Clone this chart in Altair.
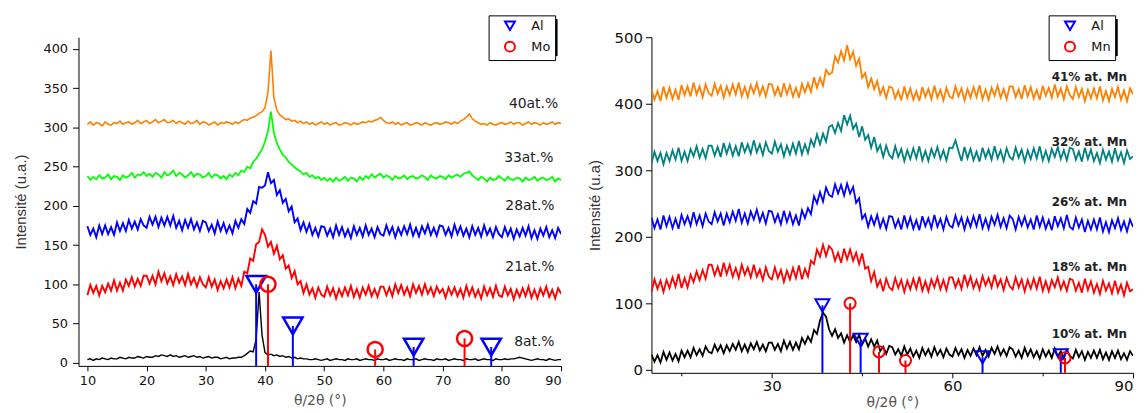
import altair as alt
import pandas as pd

# ---------------- LEFT PANEL DATA (x = 10 .. 90, step 0.5) ----------------
left_names = ["8at.%", "21at.%", "28at.%", "33at.%", "40at.%"]
left_colors = ["#000000", "#FF0000", "#0000FF", "#00FF00", "#FF8000"]
left_widths = [1.4, 1.9, 1.9, 1.8, 1.6]

left_40 = [
    304,307, 303,306, 305,302, 307,304, 303,306, 305,308, 304,306, 307,304, 306,309, 305,307,
    309,305, 307,310, 306,308, 310,306, 307,309, 305,308, 306,304, 308,305, 306,309, 304,307,
    306,303, 305,307, 303,306, 305,307, 306,304, 307,305, 308,310, 309,312, 313,315, 318,320,
    325,345, 398,338, 322,316, 313,310, 311,308, 309,306, 308,305, 307,304, 306,303, 305,307,
    304,306, 303,305, 306,303, 304,306, 305,303, 306,304, 305,307, 306,308, 307,309, 310,313,
    309,306, 305,307, 304,306, 303,305, 306,303, 304,306, 305,303, 306,304, 303,305, 306,304,
    305,307, 306,304, 307,305, 308,310, 313,317, 311,308, 306,304, 305,303, 306,304, 303,305,
    306,304, 305,307, 304,306, 306,303, 305,307, 304,306, 305,303, 306,304, 305,307, 304,306,
    305]
left_33 = [
    238,233, 237,234, 239,235, 236,240, 234,238, 237,233, 239,236, 238,242, 236,240, 239,243,
    238,241, 237,242, 240,236, 243,239, 241,245, 238,242, 240,236, 239,243, 237,241, 240,236,
    238,242, 236,240, 239,235, 238,234, 240,237, 242,239, 245,243, 250,248, 256,260, 266,272,
    282,295, 320,293, 280,272, 265,262, 256,253, 249,246, 244,240, 242,237, 239,235, 237,233,
    236,232, 235,231, 236,232, 234,237, 232,236, 235,231, 237,233, 238,235, 240,236, 239,241,
    236,239, 237,233, 238,235, 236,239, 234,237, 238,235, 236,239, 237,233, 239,236, 235,238,
    237,234, 239,236, 238,240, 237,241, 242,244, 239,236, 233,237, 235,231, 236,233, 234,238,
    235,232, 237,234, 233,236, 235,231, 236,233, 234,237, 232,235, 236,233, 234,237, 231,235,
    233]
left_28 = [
    174,163, 171,160, 175,164, 175,164, 173,163, 179,168, 178,168, 182,171, 180,170, 183,175,
    172,186, 176,186, 173,185, 175,186, 175,187, 172,181, 169,182, 172,183, 170,179, 168,181,
    179,168, 176,165, 180,168, 178,166, 175,165, 181,172, 183,177, 196,191, 206,203, 224,223,
    226,243, 229,233, 214,220, 204,209, 193,199, 179,184, 169,179, 167,177, 163,172, 161,174,
    173,162, 171,160, 175,163, 173,161, 170,159, 174,163, 172,161, 175,163, 171,160, 173,164,
    162,175, 164,173, 160,172, 163,174, 164,176, 162,172, 161,174, 165,176, 163,172, 162,175,
    174,163, 172,161, 176,164, 174,162, 171,160, 174,163, 172,161, 175,163, 171,160, 173,164,
    160,173, 162,171, 158,170, 161,172, 162,174, 159,169, 158,171, 162,173, 160,169, 159,172,
    164]
left_21 = [
    86,99, 89,98, 86,98, 90,101, 92,105, 92,102, 92,106, 98,109, 97,107, 98,111,
    111,101, 111,100, 116,104, 114,101, 110,99, 113,102, 110,99, 113,100, 108,97, 109,100,
    96,109, 97,106, 93,104, 95,106, 96,109, 95,107, 98,116, 114,133, 130,151, 154,170,
    163,148, 154,139, 149,132, 137,120, 124,108, 117,100, 104,89, 100,87, 95,83, 96,87,
    84,97, 86,95, 82,94, 85,96, 86,98, 84,94, 83,96, 87,98, 85,94, 84,97,
    97,86, 96,85, 100,89, 99,87, 96,85, 100,89, 98,87, 100,88, 96,85, 97,89,
    94,83, 96,87, 96,85, 94,83, 98,86, 96,84, 93,82, 97,86, 95,84, 98,86,
    84,97, 86,94, 81,93, 84,95, 85,97, 83,93, 82,95, 86,97, 84,93, 82,95,
    88]
left_8 = [
    4,5, 3,5, 4,6, 5,4, 6,5, 5,7, 6,5, 7,6, 6,8, 7,6,
    8,7, 7,9, 8,10, 9,8, 10,8, 9,7, 8,9, 7,8, 9,7, 8,6,
    7,8, 6,7, 7,5, 6,7, 5,6, 6,7, 7,9, 12,15, 14,30, 90,35,
    13,10, 11,9, 10,8, 9,7, 8,6, 7,5, 6,5, 5,4, 4,5, 4,3,
    4,5, 3,4, 5,4, 4,3, 5,4, 4,5, 3,4, 5,4, 4,3, 5,4,
    4,5, 3,4, 5,4, 4,3, 5,4, 4,5, 3,4, 5,4, 4,3, 5,4,
    4,5, 3,4, 5,4, 4,3, 5,4, 4,5, 3,4, 5,4, 4,3, 5,4,
    4,5, 4,5, 5,6, 7,6, 5,4, 3,4, 5,4, 4,3, 5,4, 3,4,
    4]
left_series = [left_8, left_21, left_28, left_33, left_40]

# reference sticks (left)
left_ref_x = [38.5, 44.7, 65.1, 78.2, 40.5, 58.6, 73.7]
left_ref_y = [100, 47, 20, 20, 100, 17, 31]
left_ref_el = ["Al", "Al", "Al", "Al", "Mo", "Mo", "Mo"]

left_lab_x = [88.9, 88.9, 88.9, 88.7, 89.5]
left_lab_y = [27, 122, 200, 261, 330]

# ---------------- RIGHT PANEL DATA (x = 10 .. 90, step 0.5) ----------------
right_names = ["10% at. Mn", "18% at. Mn", "26% at. Mn", "32% at. Mn", "41% at. Mn"]
right_colors = ["#000000", "#FF0000", "#0000FF", "#008080", "#FF8000"]
right_widths = [1.8, 1.8, 1.8, 1.8, 1.8]

right_41 = [
    422,406, 419,404, 426,409, 424,407, 421,406, 428,413, 426,411, 432,414, 426,410, 429,416,
    412,430, 415,427, 409,426, 413,429, 414,432, 411,425, 410,428, 416,431, 413,426, 411,430,
    429,413, 425,410, 431,414, 428,411, 424,409, 430,417, 431,418, 440,424, 439,427, 451,444,
    447,471, 462,479, 465,488, 467,478, 457,468, 439,446, 425,438, 422,434, 414,425, 409,426,
    424,408, 420,405, 426,409, 423,406, 419,404, 425,410, 422,407, 427,409, 421,405, 424,411,
    408,426, 411,423, 405,422, 409,425, 410,428, 407,421, 406,424, 412,427, 409,422, 407,426,
    426,410, 422,407, 428,411, 425,408, 421,406, 427,412, 424,409, 429,411, 423,407, 426,413,
    407,425, 410,422, 404,421, 408,423, 408,426, 405,419, 404,422, 410,425, 406,420, 404,423,
    414]
right_32 = [
    310,328, 314,326, 309,326, 314,330, 316,334, 314,328, 314,332, 321,336, 319,332, 318,337,
    337,322, 335,320, 341,325, 339,322, 336,321, 342,327, 339,325, 345,327, 339,323, 342,329,
    325,343, 328,339, 321,337, 324,340, 325,344, 324,339, 326,346, 336,354, 339,355, 343,365,
    368,356, 371,359, 383,369, 382,362, 370,350, 366,346, 353,334, 350,329, 338,320, 337,323,
    318,336, 320,332, 314,330, 317,333, 318,336, 315,329, 314,332, 320,335, 317,330, 315,334,
    333,345, 329,314, 335,318, 332,315, 328,313, 334,319, 331,316, 336,318, 330,314, 333,320,
    316,334, 319,331, 313,330, 317,333, 318,336, 315,329, 314,332, 320,335, 317,330, 315,334,
    332,316, 328,313, 334,317, 331,314, 326,311, 331,316, 328,313, 333,315, 327,311, 330,317,
    321]
right_26 = [
    229,213, 226,211, 232,216, 230,213, 227,212, 233,219, 231,217, 237,219, 232,216, 235,223,
    219,237, 223,235, 217,235, 222,238, 224,242, 221,235, 220,238, 226,241, 223,236, 220,239,
    238,222, 234,219, 239,222, 236,219, 232,217, 240,228, 243,234, 261,250, 267,253, 274,263,
    260,279, 265,278, 262,280, 265,275, 251,258, 227,234, 215,231, 218,233, 214,227, 212,231,
    230,214, 226,211, 232,215, 229,212, 225,210, 231,216, 228,213, 233,215, 227,211, 230,217,
    214,232, 217,229, 211,228, 215,231, 216,234, 213,227, 212,230, 218,233, 215,228, 213,232,
    227,211, 230,217, 230,214, 226,211, 232,215, 229,212, 225,210, 231,216, 228,213, 233,215,
    211,229, 214,226, 207,224, 211,226, 211,229, 208,222, 207,225, 213,228, 210,223, 208,226,
    215]
right_18 = [
    117,136, 122,134, 117,135, 123,139, 125,144, 123,138, 124,143, 132,148, 135,150, 137,158,
    158,142, 155,140, 161,144, 158,140, 153,138, 158,143, 154,139, 158,140, 151,135, 154,140,
    136,154, 138,150, 132,149, 136,153, 138,157, 136,152, 140,164, 159,181, 170,188, 171,186,
    181,164, 176,161, 182,166, 181,164, 176,159, 175,152, 155,133, 147,125, 135,118, 137,124,
    120,138, 123,135, 117,134, 121,137, 122,140, 119,133, 118,136, 124,139, 121,135, 120,139,
    139,124, 136,122, 143,126, 140,123, 135,121, 141,127, 138,124, 143,125, 136,120, 138,126,
    121,139, 124,136, 118,135, 122,137, 122,140, 119,133, 118,135, 124,139, 121,133, 119,137,
    135,119, 131,116, 137,120, 133,116, 129,114, 134,119, 130,115, 134,116, 128,112, 131,118,
    121]
right_10 = [
    23,12, 22,11, 27,15, 26,14, 24,13, 29,19, 29,19, 33,22, 31,21, 35,27,
    25,38, 28,37, 25,37, 28,39, 30,42, 28,38, 27,40, 31,42, 29,38, 28,41,
    41,30, 39,28, 44,32, 42,30, 41,31, 48,39, 50,42, 60,54, 74,86, 80,61,
    51,61, 48,55, 41,52, 42,52, 42,53, 38,47, 35,46, 35,44, 28,35, 24,36,
    34,23, 31,21, 35,23, 32,20, 29,18, 33,22, 31,20, 34,22, 30,19, 32,23,
    20,33, 22,31, 18,30, 21,32, 22,34, 21,30, 20,33, 24,35, 22,31, 21,34,
    31,20, 29,18, 33,21, 31,19, 28,17, 31,20, 29,18, 32,20, 28,17, 30,21,
    17,30, 19,28, 15,27, 18,29, 18,30, 16,26, 15,28, 18,29, 16,25, 15,28,
    21]
right_series = [right_10, right_18, right_26, right_32, right_41]

right_ref_x = [38.4, 44.75, 65.0, 78.0, 43.0, 47.8, 52.2, 78.7]
right_ref_y = [97, 45, 19, 22, 100, 27, 14, 18]
right_ref_el = ["Al", "Al", "Al", "Al", "Mn", "Mn", "Mn", "Mn"]

right_lab_x = [89, 89, 89, 89, 89]
right_lab_y = [54, 154, 253, 343, 440]

TFONT = "Liberation Sans"
LFONT = "DejaVu Sans"


def spectra_frame(series, names, colors, widths):
    rows = []
    for k, (vals, name, col, w) in enumerate(zip(series, names, colors, widths)):
        for i, v in enumerate(vals):
            rows.append({"x": 10 + 0.5 * i, "y": v, "s": name, "col": col, "w": w, "o": k})
    return pd.DataFrame(rows)


def panel(series, names, colors, widths, ref_x, ref_y, ref_el, el_domain, lab_x, lab_y,
          xdom, ydom, xticks, xmajor, yticks, ymajor, w, h, ytitle,
          tri_size, circ_size, mstroke, leg_x, leg_y, lab_bold, lab_size, tick_font,
          x_lpad, x_tpad, y_lpad, y_tpad, leg_w, leg_h):
    df = spectra_frame(series, names, colors, widths)
    ref = pd.DataFrame({"x": ref_x, "y": ref_y, "el": ref_el,
                        "col": ["#0000FF" if e == "Al" else "#FF0000" for e in ref_el]})
    labs = pd.DataFrame({"x": lab_x, "y": lab_y, "t": names})

    xaxis = alt.Axis(values=xticks, title="θ/2θ (°)", grid=False,
                     labelExpr=f"datum.value % {xmajor} === 0 ? datum.label : ''",
                     tickSize={"condition": {"test": f"datum.value % {xmajor} === 0", "value": 5}, "value": 3},
                     labelOverlap=False, labelFontSize=tick_font, titleFontSize=14,
                     titleFontWeight="normal", titleColor="#555", labelColor="#111",
                     domainColor="black", tickColor="black", labelFont=LFONT, titleFont=LFONT,
                     labelPadding=x_lpad, titlePadding=x_tpad)
    yaxis = alt.Axis(values=yticks, title=ytitle, grid=False,
                     labelExpr=f"datum.value % {ymajor} === 0 ? datum.label : ''",
                     tickSize={"condition": {"test": f"datum.value % {ymajor} === 0", "value": 6}, "value": 3},
                     labelOverlap=False, labelFontSize=tick_font, titleFontSize=15,
                     titleFontWeight="normal", titleColor="#333", labelColor="#111",
                     domainColor="black", tickColor="black", labelFont=LFONT, titleFont=TFONT,
                     labelPadding=y_lpad, titlePadding=y_tpad)
    xs = alt.Scale(domain=xdom, nice=False, zero=False)
    ys = alt.Scale(domain=ydom, nice=False, zero=False)

    lines = alt.Chart(df).mark_line(clip=True).encode(
        x=alt.X("x:Q", scale=xs, axis=xaxis),
        y=alt.Y("y:Q", scale=ys, axis=yaxis),
        detail="s:N",
        order="o:Q",
        color=alt.Color("col:N", scale=None),
        strokeWidth=alt.StrokeWidth("w:Q", scale=None),
    )
    sticks = alt.Chart(ref).mark_rule(strokeWidth=2).encode(
        x="x:Q", y="y:Q", y2=alt.value(h),
        color=alt.Color("col:N", scale=None),
    )
    leg = alt.Legend(orient="none", legendX=leg_x, legendY=leg_y, title=None,
                     strokeColor="black", fillColor="white", padding=4,
                     labelFontSize=13, labelFont=LFONT, labelColor="#111",
                     symbolStrokeWidth=2, symbolSize=100, rowPadding=3,
                     symbolOffset=11, labelOffset=15, cornerRadius=0)
    shape_enc = alt.Shape("el:N", scale=alt.Scale(domain=el_domain, range=["triangle-down", "circle"]), legend=leg)
    color_enc = alt.Color("el:N", scale=alt.Scale(domain=el_domain, range=["#0000FF", "#FF0000"]), legend=leg)
    tri = alt.Chart(ref).transform_filter(alt.datum.el == "Al").mark_point(
        filled=False, opacity=1, strokeWidth=mstroke, size=tri_size).encode(
        x="x:Q", y="y:Q", shape=shape_enc, color=color_enc)
    circ = alt.Chart(ref).transform_filter(alt.datum.el != "Al").mark_point(
        filled=False, opacity=1, strokeWidth=mstroke, size=circ_size).encode(
        x="x:Q", y="y:Q", shape=shape_enc, color=color_enc)
    texts = alt.Chart(labs).mark_text(align="right", baseline="middle", font=LFONT,
                                      fontSize=lab_size, color="#222",
                                      fontWeight="bold" if lab_bold else "normal").encode(
        x="x:Q", y="y:Q", text="t:N")
    # drop shadow behind the legend frame
    shadow = alt.Chart(ref).mark_rect(color="black").encode(
        x=alt.value(leg_x + 4), x2=alt.value(leg_x + 4 + leg_w),
        y=alt.value(leg_y + 4), y2=alt.value(leg_y + 4 + leg_h))
    return alt.layer(shadow, lines, texts, sticks, tri, circ).properties(width=w, height=h)


left = panel(left_series, left_names, left_colors, left_widths,
             left_ref_x, left_ref_y, left_ref_el, ["Al", "Mo"], left_lab_x, left_lab_y,
             [8.5, 90], [-4, 415], list(range(10, 91, 5)), 10, list(range(0, 401, 25)), 50,
             486, 331, "Intensité (u.a.)", 380, 230, 2.5, 413, -22, False, 14, 13,
             4, 6, 5, 15, 65, 37)
right = panel(right_series, right_names, right_colors, right_widths,
              right_ref_x, right_ref_y, right_ref_el, ["Al", "Mn"], right_lab_x, right_lab_y,
              [10, 90], [-4.5, 500], list(range(15, 91, 15)), 30, list(range(0, 501, 50)), 100,
              485, 338, "Intensité (u.a)", 200, 125, 2, 400, -22, True, 12, 15,
              1, 2, 3, 12, 65, 37)

chart = alt.hconcat(left, right, spacing=25).resolve_scale(
    color="independent", shape="independent"
).resolve_legend(color="independent", shape="independent").configure_view(
    stroke=None
).properties(padding={"left": 5, "top": 5, "right": 5, "bottom": 0})

chart.save("out.html", embed_options={"renderer": "svg", "actions": False})
